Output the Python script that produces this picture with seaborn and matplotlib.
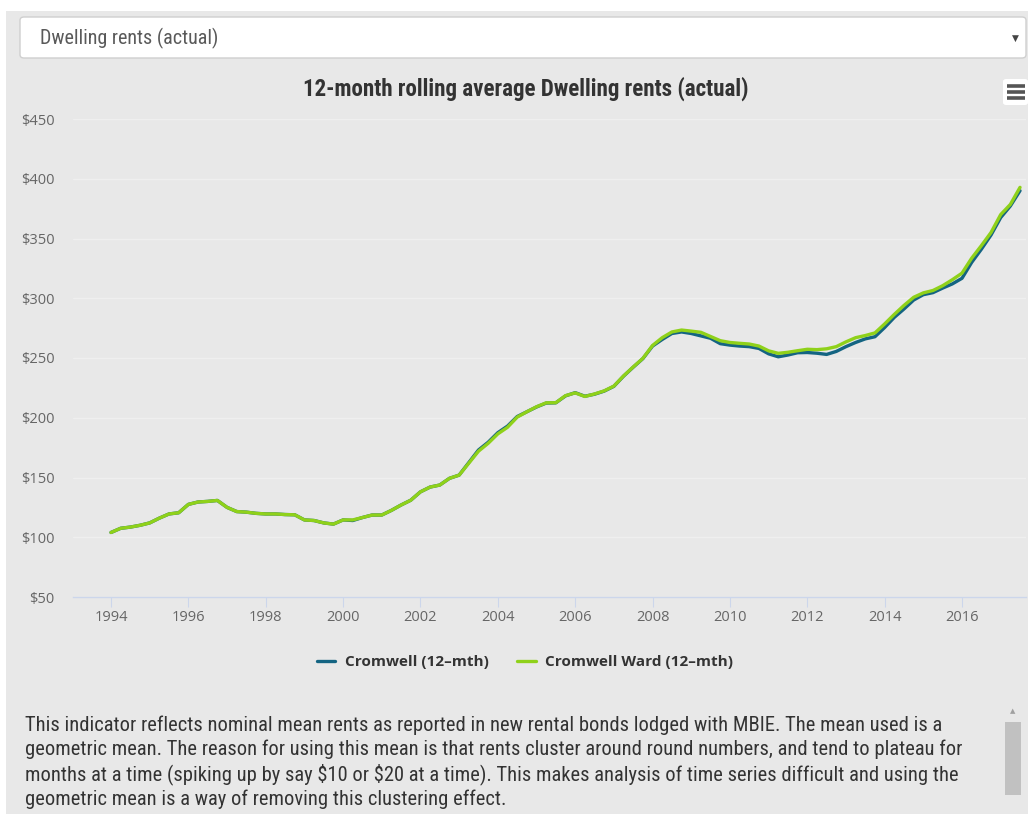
import numpy as np
import pandas as pd
import matplotlib
matplotlib.use("Agg")
import matplotlib.pyplot as plt
from matplotlib import font_manager
from matplotlib.lines import Line2D
from matplotlib.patches import Rectangle, FancyBboxPatch
import seaborn as sns

# ---------------------------------------------------------------- data
start_year = 1994
series_names = ["Cromwell (12–mth)", "Cromwell Ward (12–mth)"]

# quarterly 12-month rolling mean rents, 1994 Q1 onward
cromwell = [
    104, 107.5, 108.5, 110,
    112, 116, 119.5, 120.5,
    127.5, 129.5, 130, 130.8,
    125, 121.5, 121, 120,
    119.5, 119.5, 119, 118.8,
    114.5, 114, 112, 111,
    114.5, 114.0, 116.5, 118.6,
    118.6, 122.5, 127, 131,
    138, 142, 143.7, 149.3,
    152, 162.5, 173, 179.5,
    187.5, 193, 201, 205,
    209, 212.3, 212.5, 218.3,
    221, 218, 219.7, 222.3,
    226.3, 234.8, 242.3, 249.5,
    260, 265.5, 270.5, 271.8,
    270.5, 268.5, 266.5, 262,
    260.8, 260, 259.5, 258,
    253.5, 251, 252.5, 254.4,
    254.6, 254, 253, 255.5,
    259.5, 263, 266, 267.8,
    275.5, 284, 291, 298.5,
    303, 304.7, 308.5, 312,
    316.7, 330, 341, 352.9,
    367.5, 377.2, 390,
]
cromwell_ward = [
    104, 107.5, 108.5, 110,
    112, 116, 119.5, 120.5,
    127.5, 129.5, 130, 130.8,
    125, 121.5, 121, 120,
    119.5, 119.5, 119, 118.8,
    114.5, 114, 112, 111,
    114.5, 114.5, 116.5, 118.6,
    118.6, 122.5, 127, 131,
    138, 142, 143.7, 149.3,
    152, 162, 172, 178.6,
    186.5, 192, 200.5, 205,
    209.2, 212.5, 212.6, 218.5,
    220.8, 217.8, 219.9, 222.5,
    226.5, 235, 242.5, 249.7,
    260.5, 267, 271.8, 273.4,
    272.5, 271.5, 268, 264.5,
    263, 262.3, 261.7, 260,
    256, 253.9, 254.8, 256.1,
    257.3, 257, 257.7, 259.5,
    263.5, 267, 268.8, 271,
    278.5, 286.5, 294, 300.8,
    304.5, 306.5, 310.5, 315.5,
    321, 333.5, 344, 355,
    370, 378.5, 392.8,
]
year_ticks = list(range(1994, 2017, 2))
rent_ticks = [50, 100, 150, 200, 250, 300, 350, 400, 450]

dropdown_label = "Dwelling rents (actual)"
chart_title = "12-month rolling average Dwelling rents (actual)"
note_lines = [
    "This indicator reflects nominal mean rents as reported in new rental bonds lodged with MBIE. The mean used is a",
    "geometric mean. The reason for using this mean is that rents cluster around round numbers, and tend to plateau for",
    "months at a time (spiking up by say $10 or $20 at a time). This makes analysis of time series difficult and using the",
    "geometric mean is a way of removing this clustering effect.",
]

# ---------------------------------------------------------------- styling
W, H = 1028, 814
PANEL = "#e8e8e8"
DARK = "#146482"
GREEN = "#8fd11a"
AXIS_BLUE = "#ccd6eb"

installed = {f.name for f in font_manager.fontManager.ttflist}


def pick(*names):
    for n in names:
        if n in installed:
            return n
    return "DejaVu Sans"


NARROW = pick("Liberation Sans Narrow", "Roboto Condensed", "Roboto", "Lato")
UI = pick("Open Sans", "Noto Sans", "Lato", "DejaVu Sans")

sns.set_style("white")
plt.rcParams["font.family"] = [UI, "DejaVu Sans"]


def fx(x):
    return x / W


def fy(y):
    return 1 - y / H


fig = plt.figure(figsize=(W / 100, H / 100), dpi=100, facecolor=PANEL)

# white page margins at the top and left edges
fig.patches.append(Rectangle((0, fy(11)), 1, 11 / H, transform=fig.transFigure,
                             facecolor="white", edgecolor="none", zorder=0))
fig.patches.append(Rectangle((0, 0), 6 / W, 1, transform=fig.transFigure,
                             facecolor="white", edgecolor="none", zorder=0))

# dropdown selector
fig.patches.append(FancyBboxPatch((fx(20), fy(58)), (1026 - 20) / W, 41 / H,
                                  boxstyle="round,pad=0,rounding_size=0.004",
                                  transform=fig.transFigure, facecolor="white",
                                  edgecolor="#cfcfcf", lw=1, zorder=1))
fig.text(fx(1015), fy(38), "▼", fontsize=6.5, color="#444444",
         ha="center", va="center", family="DejaVu Sans")

# ---------------------------------------------------------------- chart
df = pd.DataFrame({
    "year": np.concatenate([start_year + 0.25 * np.arange(len(cromwell)),
                            start_year + 0.25 * np.arange(len(cromwell_ward))]),
    "rent": cromwell + cromwell_ward,
    "series": [series_names[0]] * len(cromwell) + [series_names[1]] * len(cromwell_ward),
})

ax = fig.add_axes([fx(73), fy(597), (1026 - 73) / W, (597 - 119) / H])
ax.set_facecolor(PANEL)
sns.lineplot(data=df, x="year", y="rent", hue="series", hue_order=series_names,
             palette=[DARK, GREEN], linewidth=2.4, legend=False, ax=ax)

px_per_year = (962 - 111) / 22
ax.set_xlim(1994 - (111 - 73) / px_per_year, 2016 + (1026 - 962) / px_per_year)
ax.set_ylim(50, 450)
ax.set_xlabel("")
ax.set_ylabel("")

ax.set_xticks(year_ticks)
ax.set_xticklabels([str(y) for y in year_ticks])
ax.set_yticks(rent_ticks)
ax.set_yticklabels(["\\$" + str(v) for v in rent_ticks])

for s in ["top", "right", "left"]:
    ax.spines[s].set_visible(False)
ax.spines["bottom"].set_color(AXIS_BLUE)
ax.spines["bottom"].set_linewidth(1)

ax.yaxis.grid(True, color="#efefef", linewidth=1)
ax.xaxis.grid(False)
ax.set_axisbelow(True)

ax.tick_params(axis="x", direction="out", length=7.2, width=0.8, color=AXIS_BLUE,
               pad=2.0, labelsize=10.5, labelcolor="#666666", bottom=True)
ax.tick_params(axis="y", length=0, pad=13.5, labelsize=10.5, labelcolor="#666666")

# legend below the plot
handles = [Line2D([0], [0], color=DARK, lw=2.4), Line2D([0], [0], color=GREEN, lw=2.4)]
leg = fig.legend(handles, series_names, loc="center", bbox_to_anchor=(fx(525), fy(662)),
                 ncol=2, frameon=False, handlelength=1.2, handletextpad=0.6,
                 columnspacing=1.9, prop={"family": UI, "weight": "bold", "size": 11})
for t in leg.get_texts():
    t.set_color("#333333")

# menu button
fig.patches.append(FancyBboxPatch((fx(1003), fy(105)), 25 / W, 26 / H,
                                  boxstyle="round,pad=0,rounding_size=0.003",
                                  transform=fig.transFigure, facecolor="white",
                                  edgecolor="none", zorder=2))
for yy in (86, 92, 98):
    fig.add_artist(Line2D([fx(1007), fx(1025)], [fy(yy), fy(yy)], color="#555555",
                          lw=2.6, solid_capstyle="butt", transform=fig.transFigure, zorder=3))

# scrollbar beside the description
fig.patches.append(Rectangle((fx(1005), fy(795)), 16 / W, 73 / H, transform=fig.transFigure,
                             facecolor="#c1c1c1", edgecolor="none", zorder=1))
fig.text(fx(1013), fy(711), "▲", fontsize=5, color="#a0a0a0", ha="center", va="center",
         family="DejaVu Sans")

# ---------------------------------------------------------------- text fitted to widths
renderer = fig.canvas.get_renderer()


def fitted(x, y, s, width_px, size, **kw):
    t = fig.text(fx(x), fy(y), s, fontsize=size, parse_math=False, **kw)
    bb = t.get_window_extent(renderer)
    t.set_fontsize(size * width_px / bb.width)
    return t


fitted(40, 38, dropdown_label, 178, 11, family=[NARROW, "DejaVu Sans"],
       color="#5a5a5a", va="center", ha="left")

tt = fig.text(fx(526), fy(89), chart_title, fontsize=13, parse_math=False,
              family=[NARROW, "DejaVu Sans"], weight="semibold", color="#333333",
              ha="center", va="center")
bb = tt.get_window_extent(renderer)
tt.set_fontsize(13 * 444 / bb.width)

ref = fig.text(0, 0, note_lines[1], fontsize=12, parse_math=False, family=[NARROW, "DejaVu Sans"])
note_size = 12 * (960 - 25) / ref.get_window_extent(renderer).width
ref.remove()
for i, line in enumerate(note_lines):
    fig.text(fx(25), fy(725 + 24.7 * i), line, fontsize=note_size, parse_math=False,
             family=[NARROW, "DejaVu Sans"], color="#333333", ha="left", va="center")

fig.savefig("out.png", dpi=100, facecolor=PANEL)
